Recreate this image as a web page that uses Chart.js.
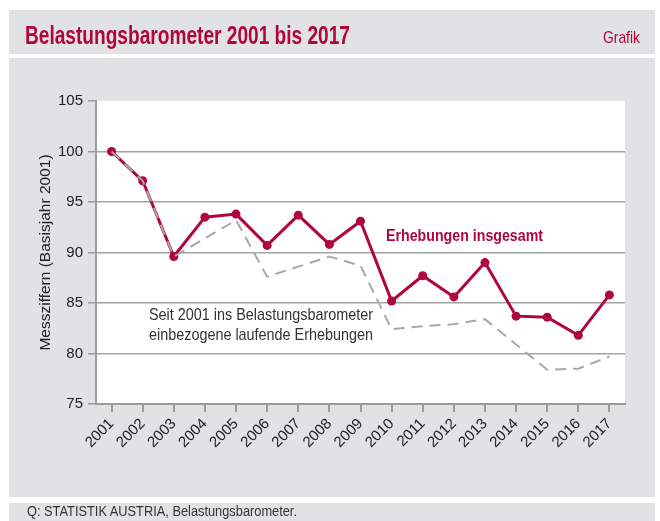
<!DOCTYPE html>
<html><head><meta charset="utf-8">
<script src="https://cdn.jsdelivr.net/npm/chart.js@4"></script>
<style>
html,body{margin:0;padding:0;background:#fff;}
#wrap{position:relative;width:660px;height:521px;overflow:hidden;font-family:"Liberation Sans Narrow","Arial Narrow","Liberation Sans",sans-serif;}
.band{position:absolute;left:9px;width:646px;background:#e1e2e4;}
#head{top:10px;height:44px;}
#panel{top:58px;height:439px;}
#foot{top:503px;height:18px;}
.txt{position:absolute;white-space:nowrap;transform-origin:0 0;}
#title{left:25px;top:21px;font-size:26px;line-height:28px;font-weight:bold;color:#b0063e;}
#grafik{left:603px;top:28px;font-size:17px;line-height:20px;color:#b0063e;}
#src{left:27px;top:503px;font-size:14px;line-height:16px;color:#333;}
#ann1{left:386px;top:226px;font-size:17px;line-height:20px;font-weight:bold;color:#b0063e;}
#ann2{left:149px;top:305px;font-size:17px;line-height:20px;color:#333;text-align:center;}
canvas{position:absolute;left:0;top:0;}
</style></head>
<body>
<div id="wrap">
<div class="band" id="head"></div>
<div class="band" id="panel"></div>
<div class="band" id="foot"></div>
<canvas id="c" width="660" height="521"></canvas>
<div class="txt" id="title" data-w="325">Belastungsbarometer 2001 bis 2017</div>
<div class="txt" id="grafik" data-w="37">Grafik</div>
<div class="txt" id="src" data-w="270">Q: STATISTIK AUSTRIA, Belastungsbarometer.</div>
<div class="txt" id="ann1" data-w="157">Erhebungen insgesamt</div>
<div class="txt" id="ann2" data-w="224">Seit 2001 ins Belastungsbarometer<br>einbezogene laufende Erhebungen</div>
</div>
<script>
const years = ['2001','2002','2003','2004','2005','2006','2007','2008','2009','2010','2011','2012','2013','2014','2015','2016','2017'];
const gesamt = [100,97.1,89.6,93.5,93.8,90.7,93.7,90.8,93.1,85.2,87.7,85.6,89.0,83.7,83.6,81.8,85.8];
const laufend = [100,97.1,89.6,91.4,93.2,87.6,88.6,89.6,88.7,82.4,82.7,82.9,83.4,80.9,78.4,78.5,79.7];
const yTicks = [75,80,85,90,95,100,105];

document.querySelectorAll('.txt').forEach(el=>{
  const w = parseFloat(el.dataset.w);
  const r = el.getBoundingClientRect().width;
  if (r>0) el.style.transform = 'scaleX(' + (w/r) + ')';
});

const RED = '#b0063e', GRID = '#a3a3a3', AXIS = '#9b9b9b';
const FONT = '"Liberation Sans Narrow","Arial Narrow","Liberation Sans",sans-serif';
const bg = {id:'bg', beforeDraw(c){const {ctx, chartArea:a}=c; ctx.save(); ctx.fillStyle='#fff'; ctx.fillRect(a.left,a.top,a.right-a.left,a.bottom-a.top); ctx.restore();}};

new Chart(document.getElementById('c'), {
  type:'line',
  data:{labels:years, datasets:[
    {data:laufend, borderColor:'#a8a8a8', borderWidth:2, borderDash:[11,7], pointRadius:0, tension:0, order:0},
    {data:gesamt, borderColor:RED, backgroundColor:RED, borderWidth:3, pointRadius:4.5, pointBackgroundColor:RED, pointBorderWidth:0, tension:0, order:1}
  ]},
  options:{
    responsive:false, animation:false, devicePixelRatio:1,
    layout:{padding:{top:101,right:35,left:0,bottom:0}},
    plugins:{legend:{display:false}, tooltip:{enabled:false}},
    scales:{
      x:{type:'category', offset:true,
        grid:{display:true, drawOnChartArea:false, drawTicks:true, tickLength:8, offset:false, color:AXIS, lineWidth:2},
        border:{color:AXIS, width:2},
        ticks:{autoSkip:false, minRotation:45, maxRotation:45, padding:3, color:'#222', font:{family:FONT, size:15}},
        afterFit:s=>{s.height=117;}
      },
      y:{min:75, max:105,
        afterBuildTicks:s=>{s.ticks = yTicks.map(v=>({value:v}));},
        grid:{color:ctx=> (ctx.tick && ctx.tick.value===105) ? 'rgba(0,0,0,0)' : GRID, tickColor:AXIS, lineWidth:1.5, tickLength:8},
        border:{color:AXIS, width:2},
        ticks:{padding:5, color:'#222', font:{family:FONT, size:15}},
        title:{display:true, text:'Messziffern (Basisjahr 2001)', color:'#222', font:{family:FONT, size:15.5}, padding:{top:36,bottom:0}},
        afterFit:s=>{s.width=96;}
      }
    }
  },
  plugins:[bg]
});
</script>
</body></html>
